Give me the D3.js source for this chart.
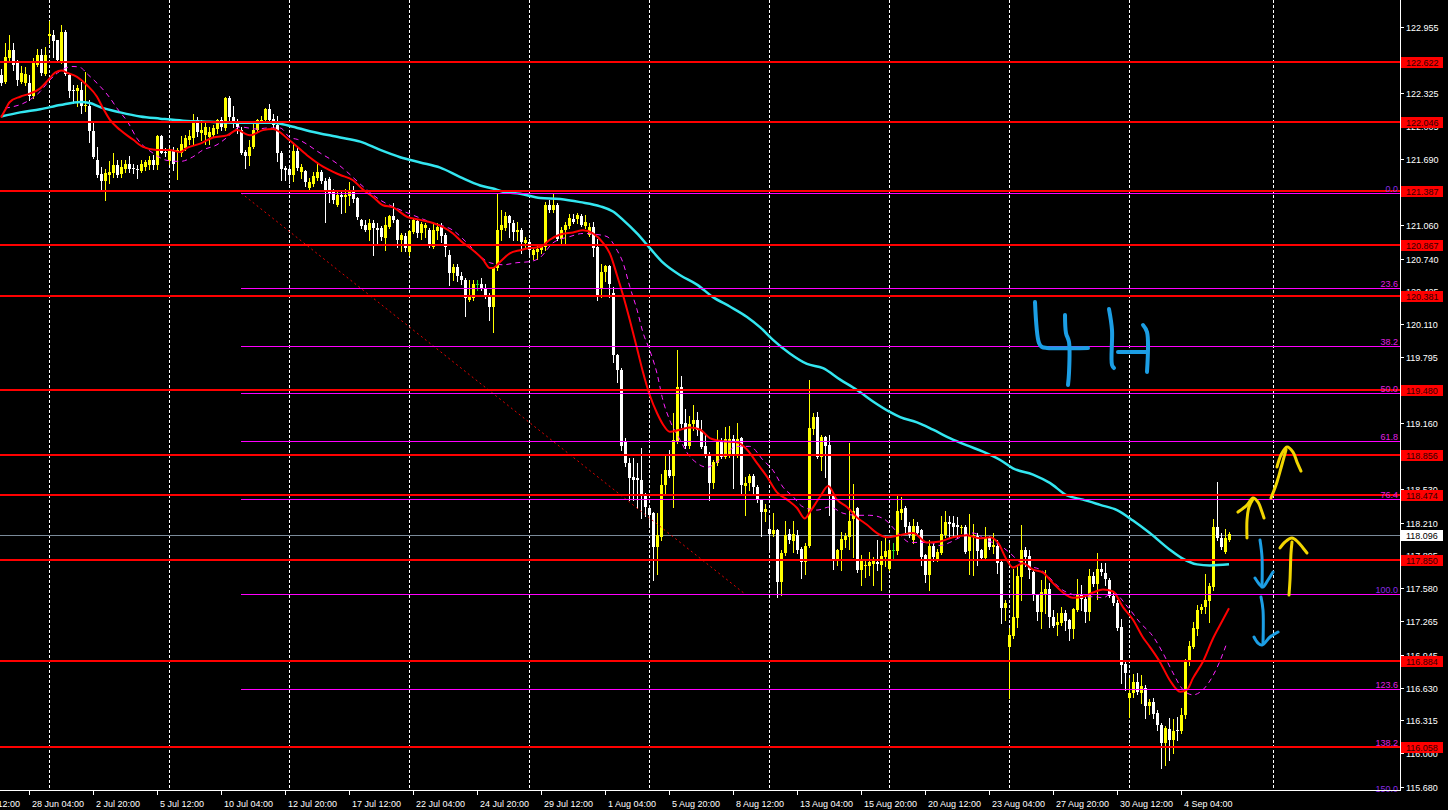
<!DOCTYPE html>
<html><head><meta charset="utf-8">
<script src="https://cdn.jsdelivr.net/npm/d3@7"></script>
<style>html,body{margin:0;padding:0;background:#000;overflow:hidden}</style>
</head><body>
<svg id="c" width="1448" height="810"></svg>
<script>
const opens = [122.50,122.43,122.66,122.74,122.61,122.43,122.42,122.42,122.30,122.59,122.69,122.51,122.87,122.88,122.83,122.63,122.91,122.50,122.35,122.34,122.35,122.20,122.20,121.96,121.68,121.55,121.48,121.54,121.56,121.64,121.55,121.60,121.65,121.61,121.60,121.58,121.62,121.64,121.68,121.64,121.91,121.76,121.67,121.78,121.76,121.75,121.80,121.88,121.89,122.07,121.94,121.92,121.90,121.92,121.98,122.07,121.99,122.28,122.10,122.05,
121.97,121.76,121.72,121.81,121.97,122.06,122.07,122.17,122.08,122.02,121.75,121.61,121.60,121.54,121.77,121.57,121.58,121.42,121.45,121.51,121.57,121.48,121.50,121.40,121.25,121.35,121.33,121.34,121.40,121.32,121.11,121.06,121.01,121.08,121.03,121.03,120.94,121.04,121.15,121.11,120.92,120.96,120.80,120.99,121.10,120.98,121.03,121.01,120.85,121.00,121.05,120.97,120.77,120.60,120.66,120.57,120.53,120.34,120.36,120.50,
120.50,120.46,120.39,120.28,120.65,121.01,121.03,121.15,121.08,120.99,121.01,120.89,120.90,120.77,120.80,120.82,120.85,121.25,121.20,121.25,120.93,121.01,121.05,121.12,121.12,121.15,121.05,120.97,121.04,120.85,120.45,120.61,120.67,120.41,119.82,119.67,118.98,118.78,118.65,118.64,118.62,118.48,118.35,118.30,117.98,118.07,118.57,118.71,118.66,118.99,
119.51,119.16,118.94,119.15,119.19,119.10,118.94,118.87,118.59,118.78,118.98,118.84,118.87,119.01,118.87,119.02,118.56,118.59,118.66,118.55,118.43,118.31,118.15,118.10,118.14,117.64,117.92,118.10,118.03,118.09,117.96,117.83,117.99,119.11,119.22,118.84,119.03,118.95,118.48,117.85,117.95,118.04,118.07,118.24,118.35,117.76,117.79,117.79,117.81,117.83,
117.80,117.88,117.77,117.95,117.94,118.30,118.35,118.18,118.04,118.18,118.14,117.90,117.71,117.99,117.85,117.92,118.09,118.22,118.21,118.19,118.16,118.17,117.94,118.07,118.08,117.95,117.87,118.07,117.98,117.99,117.83,117.39,117.02,117.12,117.30,117.69,117.95,117.89,117.74,117.52,117.35,117.53,117.57,117.31,117.23,117.25,117.34,117.28,117.19,117.37,
117.53,117.48,117.35,117.70,117.62,117.77,117.73,117.66,117.51,117.44,117.21,116.86,116.53,116.58,116.68,116.58,116.63,116.45,116.49,116.39,116.27,116.10,116.23,116.13,116.22,116.21,116.37,116.88,117.02,117.19,117.37,117.40,117.46,117.59,118.17,118.06,117.93,118.04];
const highs = [122.56,122.80,122.88,122.80,122.64,122.58,122.57,122.50,122.66,122.75,122.75,122.77,123.02,122.93,122.83,122.98,122.93,122.51,122.40,122.40,122.43,122.53,122.26,122.04,121.81,121.62,121.60,121.67,121.75,121.68,121.68,121.68,121.72,121.65,121.64,121.68,121.68,121.72,121.73,121.92,121.92,121.80,121.80,121.81,121.80,121.91,121.92,121.97,122.12,122.10,122.07,122.04,122.00,122.02,122.08,122.10,122.29,122.30,122.20,122.08,
122.00,121.78,121.88,122.04,122.08,122.11,122.18,122.22,122.12,122.11,121.77,121.63,121.64,121.84,121.81,121.65,121.59,121.51,121.57,121.66,121.59,121.51,121.52,121.41,121.40,121.40,121.41,121.47,121.43,121.33,121.12,121.11,121.12,121.11,121.08,121.05,121.14,121.16,121.27,121.12,120.98,120.98,121.01,121.12,121.12,121.09,121.08,121.03,121.08,121.08,121.08,120.98,120.82,120.69,120.69,120.61,120.55,120.53,120.53,120.53,
120.55,120.50,120.41,120.66,121.36,121.20,121.19,121.16,121.11,121.09,121.03,120.95,120.93,120.85,120.88,120.88,121.28,121.30,121.36,121.27,121.04,121.09,121.17,121.17,121.18,121.17,121.16,121.08,121.09,120.93,120.69,120.68,120.68,120.47,119.83,119.69,119.02,118.83,118.83,118.78,118.92,118.49,118.36,118.31,118.30,118.68,118.87,118.91,119.26,119.86,
119.61,119.30,119.23,119.34,119.27,119.19,119.06,118.89,118.81,119.10,119.02,119.13,119.14,119.05,119.16,119.03,118.65,118.68,118.68,118.57,118.44,118.39,118.28,118.30,118.15,117.95,118.23,118.15,118.23,118.14,117.98,118.01,119.58,119.26,119.27,119.05,119.04,119.05,118.50,117.96,118.12,118.11,118.97,118.58,118.36,117.90,117.85,117.93,117.88,118.04,
118.03,118.08,118.01,118.01,118.47,118.46,118.37,118.22,118.24,118.22,118.15,117.91,118.04,118.01,117.96,118.27,118.32,118.27,118.27,118.26,118.19,118.19,118.29,118.20,118.11,117.96,118.17,118.08,118.11,118.04,117.84,117.47,117.20,117.77,117.79,118.19,117.98,117.95,117.77,117.53,117.66,117.76,117.63,117.37,117.34,117.40,117.37,117.29,117.39,117.67,
117.61,117.50,117.77,117.74,117.92,117.82,117.82,117.68,117.55,117.47,117.29,116.88,116.72,116.76,116.77,116.75,116.65,116.52,116.53,116.41,116.29,116.26,116.34,116.33,116.35,116.43,116.90,117.08,117.26,117.42,117.43,117.72,117.63,118.24,118.60,118.11,118.15,118.12];
const lows = [122.40,122.42,122.64,122.55,122.40,122.42,122.40,122.26,122.28,122.58,122.50,122.50,122.80,122.67,122.63,122.61,122.50,122.29,122.23,122.20,122.13,122.15,121.86,121.70,121.52,121.40,121.30,121.46,121.52,121.52,121.52,121.57,121.57,121.56,121.51,121.57,121.59,121.60,121.60,121.60,121.75,121.72,121.65,121.59,121.50,121.72,121.78,121.84,121.84,121.91,121.88,121.84,121.84,121.91,121.94,121.97,121.97,122.05,122.00,121.94,
121.74,121.61,121.64,121.80,121.95,122.04,122.04,122.04,122.00,121.67,121.49,121.49,121.46,121.48,121.59,121.51,121.43,121.40,121.43,121.49,121.46,121.09,121.28,121.27,121.24,121.18,121.19,121.25,121.28,121.12,121.03,121.00,120.92,120.77,120.89,120.92,120.82,121.03,121.09,120.85,120.81,120.81,120.77,120.98,120.95,120.93,120.95,120.85,120.84,120.93,120.90,120.76,120.49,120.53,120.52,120.50,120.19,120.33,120.34,120.44,
120.44,120.36,120.15,120.04,120.63,120.92,121.01,120.95,120.92,120.92,120.79,120.85,120.77,120.74,120.74,120.79,120.82,121.19,121.19,120.92,120.89,120.87,121.03,121.08,121.08,121.05,121.03,120.96,120.76,120.34,120.37,120.52,120.37,119.75,119.56,118.91,118.75,118.43,118.43,118.35,118.25,118.27,118.17,117.66,117.72,118.04,118.47,118.65,118.36,118.97,
119.13,118.92,118.92,119.10,119.05,118.92,118.84,118.43,118.54,118.76,118.83,118.83,118.84,118.54,118.84,118.47,118.28,118.52,118.49,118.41,118.08,118.23,117.95,118.08,117.50,117.52,117.90,118.01,117.93,117.92,117.68,117.72,117.98,119.06,118.83,118.71,118.65,118.28,117.77,117.80,117.76,117.98,117.96,117.88,117.74,117.61,117.69,117.71,117.61,117.76,
117.56,117.79,117.76,117.85,117.91,118.24,118.11,118.07,118.01,118.09,117.80,117.64,117.56,117.84,117.84,117.91,118.07,118.06,118.08,118.06,118.11,117.92,117.72,117.71,117.80,117.85,117.85,117.96,117.92,117.73,117.25,117.28,116.53,117.10,117.21,117.47,117.79,117.68,117.47,117.28,117.20,117.34,117.21,117.21,117.13,117.23,117.18,117.09,117.10,117.36,
117.37,117.26,117.28,117.60,117.48,117.71,117.61,117.50,117.42,117.18,116.67,116.61,116.35,116.54,116.57,116.48,116.34,116.38,116.34,116.22,115.86,115.89,115.94,116.00,116.13,116.19,116.34,116.85,117.01,117.13,117.34,117.34,117.26,117.56,118.04,117.96,117.92,118.03];
const closes = [122.42,122.67,122.74,122.59,122.45,122.52,122.51,122.30,122.61,122.69,122.52,122.69,122.89,122.82,122.64,122.91,122.51,122.34,122.34,122.37,122.20,122.21,121.96,121.71,121.54,121.48,121.56,121.57,121.64,121.54,121.62,121.65,121.60,121.60,121.59,121.65,121.66,121.68,121.64,121.91,121.75,121.75,121.78,121.65,121.78,121.84,121.89,121.91,122.07,121.95,121.97,122.00,121.95,121.99,122.07,122.00,122.28,122.10,122.06,122.00,
121.75,121.72,121.81,121.97,122.07,122.07,122.17,122.07,122.02,121.75,121.60,121.59,121.54,121.77,121.61,121.62,121.47,121.47,121.53,121.57,121.48,121.38,121.37,121.30,121.35,121.33,121.35,121.40,121.31,121.14,121.05,121.01,121.08,121.03,121.01,120.95,121.06,121.15,121.11,120.92,120.97,120.84,121.00,121.11,120.98,121.07,121.06,120.87,121.01,121.04,120.96,120.85,120.60,120.66,120.57,120.53,120.36,120.37,120.50,120.50,
120.46,120.38,120.28,120.65,121.01,121.06,121.15,121.08,120.99,121.01,120.90,120.92,120.82,120.82,120.83,120.85,121.25,121.20,121.25,120.93,121.01,121.06,121.13,121.09,121.16,121.06,121.09,121.04,120.84,120.37,120.61,120.67,120.50,119.82,119.67,118.94,118.78,118.64,118.62,118.62,118.47,118.36,118.28,117.98,118.09,118.57,118.71,118.66,119.00,119.51,
119.15,118.94,119.15,119.19,119.10,118.93,118.87,118.59,118.79,119.00,118.84,119.01,119.01,118.87,119.01,118.57,118.59,118.66,118.55,118.43,118.31,118.34,118.10,118.14,117.64,117.92,118.09,118.04,118.10,117.95,117.83,117.99,119.12,119.22,118.84,119.03,118.94,118.47,117.85,117.95,118.05,118.08,118.23,118.32,117.76,117.85,117.80,117.83,117.84,117.81,
117.89,117.94,117.95,117.95,118.32,118.34,118.17,118.09,118.18,118.11,117.88,117.71,117.99,117.88,117.93,118.10,118.22,118.20,118.17,118.17,118.17,117.93,118.08,118.09,117.94,117.87,118.07,117.98,118.00,117.82,117.39,117.44,117.13,117.31,117.70,117.95,117.88,117.76,117.52,117.35,117.55,117.57,117.31,117.22,117.26,117.34,117.27,117.19,117.38,117.53,
117.48,117.35,117.70,117.62,117.77,117.74,117.67,117.51,117.44,117.20,116.85,116.77,116.58,116.68,116.59,116.64,116.45,116.49,116.38,116.27,116.10,116.24,116.13,116.21,116.21,116.37,116.88,117.03,117.20,117.37,117.40,117.47,117.60,118.17,118.06,117.98,118.06,118.10];

// moving averages: bar index and value
const maRedBars = [0,1,2.2,4.8,7.2,9.8,11.8,13.5,15.2,16.5,19,21.5,24,25.5,27.2,29.8,33,35.5,39,42.2,44.8,46.5,49.8,53,56.5,59,62.2,65.5,68,72.2,76.5,80.5,84.8,88,90.5,93,95.5,98,101.5,104.8,108,110.5,113,115.5,118,120.5,122.2,123,124.8,127.2,129.8,132.2,134.8,137.2,139.8,143,145.5,148,150.5,152.2,154,155.5,157.2,159,160.5,162.2,164,165.5,167.2,169.8,172.2,174.8,177.2,180.5,184,186.5,189,191.5,194,196.5,199,201,202.2,204.8,206.8,209,211.5,214,216.5,219,221.5,224.8,228,231.5,234.8,238,241.5,244.8,247.2,249.2,251.5,253,255.5,258,260.5,263,265.5,268,270.5,273,275.5,278,280.5,283,285.5,287.2,289.8,292.2,294.8,296.5,298,300.5,303,305.2,307];
const maRedVals = [122.09,122.16,122.24,122.29,122.32,122.37,122.45,122.52,122.54,122.52,122.48,122.40,122.29,122.18,122.07,121.97,121.88,121.81,121.78,121.78,121.76,121.80,121.84,121.90,121.92,121.97,121.92,121.97,121.98,121.87,121.73,121.62,121.54,121.49,121.40,121.33,121.25,121.23,121.14,121.11,121.08,121.04,120.98,120.89,120.82,120.73,120.65,120.65,120.71,120.79,120.82,120.84,120.85,120.92,120.97,120.99,121.01,120.98,120.89,120.79,120.58,120.39,120.15,119.88,119.65,119.43,119.26,119.15,119.08,119.10,119.12,119.10,119.02,118.99,118.98,118.91,118.78,118.65,118.50,118.43,118.35,118.25,118.31,118.46,118.56,118.43,118.36,118.26,118.19,118.11,118.07,118.09,118.11,118.02,118.03,118.07,118.09,118.06,118.07,118.02,117.85,117.78,117.82,117.76,117.73,117.63,117.54,117.49,117.50,117.54,117.57,117.55,117.40,117.28,117.11,117.02,116.87,116.70,116.59,116.61,116.72,116.88,117.10,117.26,117.39];
const maCyanBars = [0,4.8,9.8,14.8,19.8,22.2,24.8,29.8,34.8,39.8,45.5,52.2,59.8,68,72.2,77.2,84.8,89.8,94.8,99.8,104.8,109.8,114.8,119.8,123,125.5,129.8,134.8,139.8,144.8,149.8,153,155.5,159,162.2,165.5,169.8,174,178,182.2,186.5,189.8,193,197.2,201.5,205.5,209.8,214,218,222.2,224.8,229,233,237.2,241.5,245.5,249.8,253,258,262.2,266.5,270.5,274.8,279,283,287.2,292.2,295.2,299,302.2,307];
const maCyanVals = [122.10,122.14,122.17,122.21,122.24,122.23,122.19,122.14,122.10,122.08,122.06,122.05,122.04,122.04,122.01,121.96,121.90,121.86,121.78,121.71,121.66,121.61,121.52,121.44,121.41,121.38,121.36,121.32,121.31,121.28,121.24,121.19,121.11,120.98,120.84,120.70,120.58,120.49,120.37,120.28,120.18,120.08,119.96,119.83,119.73,119.69,119.58,119.48,119.37,119.27,119.22,119.17,119.10,119.02,118.95,118.89,118.81,118.73,118.67,118.59,118.47,118.43,118.38,118.33,118.23,118.11,117.95,117.87,117.81,117.80,117.81];
const maDashBars = [1,7.2,9.8,12.2,14.2,18,19.8,21.8,24,27.2,29,31.8,34,38,41.5,44.8,47.8,50.5,54,56.5,59.8,64,66.5,69.8,72.2,74.2,79.8,84,86.5,90.5,94.8,99,104,108,113,116.5,119.8,122.2,125.5,129,132.2,134.8,138,142.2,145.5,149,151.5,154,155.5,157.2,159,160.5,162.2,164,165.5,167.2,169.8,171.5,174,176.5,179,181.5,184,187.2,190.5,193,195.5,198,200.5,204,207.2,210.5,214,217.2,220.5,224.8,227.2,232.2,234.8,237.2,239.8,243,246.5,249.8,252.2,254.8,257.2,259.8,262.2,264.8,268,270.5,273,275.5,278,281.5,284.8,288,290.5,293,295.5,298,300.5,302.8,304.8,306.5];
const maDashVals = [122.18,122.26,122.34,122.45,122.52,122.58,122.57,122.50,122.42,122.28,122.18,122.04,121.89,121.75,121.68,121.67,121.71,121.78,121.83,121.90,122.00,121.98,121.99,121.99,121.90,121.88,121.75,121.65,121.57,121.43,121.30,121.22,121.14,121.08,121.01,120.89,120.76,120.70,120.68,120.70,120.71,120.75,120.89,120.95,120.98,120.97,120.95,120.82,120.70,120.47,120.25,120.03,119.86,119.64,119.38,119.19,119.00,118.88,118.78,118.74,118.79,118.88,118.94,118.94,118.81,118.71,118.55,118.46,118.36,118.33,118.36,118.30,118.28,118.28,118.25,118.09,118.02,118.02,117.99,118.02,118.07,118.11,118.04,117.99,117.92,117.83,117.79,117.76,117.68,117.58,117.52,117.50,117.50,117.49,117.54,117.41,117.25,117.12,116.96,116.77,116.61,116.56,116.61,116.73,116.89,117.06];

const levelPrices = [122.622,122.046,121.387,120.867,120.381,119.480,118.856,118.474,117.850,116.884,116.058];
const fibHigh = 121.368, fibLow = 117.526, fibStartBar = 60, fibEndBar = 186;
const fibLevels = [0,23.6,38.2,50,61.8,76.4,100,123.6,138.2,150];
const currentPrice = 118.096;
// price scale labels (those fully covered by the level boxes are not shown in the reference)
const priceTicks = ["122.955","122.325","122.005","121.690","121.060","120.740","120.425","120.110","119.795","119.160","118.530","118.210","117.895","117.580","117.265","116.945","116.630","116.315","116.000","115.680"];
const timeLabels = ["25 Jun 12:00","28 Jun 04:00","2 Jul 20:00","5 Jul 12:00","10 Jul 04:00","12 Jul 20:00","17 Jul 12:00","22 Jul 04:00","24 Jul 20:00","29 Jul 12:00","1 Aug 04:00","5 Aug 20:00","8 Aug 12:00","13 Aug 04:00","15 Aug 20:00","20 Aug 12:00","23 Aug 04:00","27 Aug 20:00","30 Aug 12:00","4 Sep 04:00"];
const timeLabelBars = [-9,7,23,39,55,71,87,103,119,135,151,167,183,199,215,231,247,263,279,295];
const gridBars = [12,42,72,102,132,162,192,222,252,282,318];

// hand-drawn annotations, in bar / price units
const note4H = [
  [[258.5,120.323],[259.5,119.931],[260.25,119.892],[261.5,119.883],[271.75,119.883]],
  [[266,120.199],[266.25,120.026],[267,119.940],[267,119.643],[266.75,119.528]],
  [[277,120.256],[277.75,120.055],[277.75,119.720],[278.25,119.691]],
  [[279.25,119.844],[286.5,119.844]],
  [[285.5,120.103],[286.5,120.036],[286.5,119.653]]
];
const yellowArrows = [
  [[311.5,118.062],[311.5,118.235],[312,118.359],[313,118.436]],
  [[309.25,118.311],[311.5,118.378],[313,118.446],[314.25,118.407],[315.25,118.311],[315.75,118.254]],
  [[317.5,118.446],[318.75,118.570],[320,118.733],[321.25,118.906]],
  [[319,118.743],[320,118.858],[321.5,118.934],[323,118.886],[324,118.790],[325,118.704]],
  [[322,117.516],[322.25,117.660],[322.5,117.919],[322.75,118.024]],
  [[319.75,117.967],[321,118.024],[322.75,118.062],[324.25,118.024],[325.5,117.967],[326.5,117.919]]
];
const blueArrows = [
  [[314.75,118.043],[315.25,117.880],[315.25,117.593]],
  [[313.5,117.679],[314.75,117.612],[315.5,117.593],[316.75,117.660],[318,117.737]],
  [[315,117.497],[315.5,117.372],[315.5,117.056]],
  [[313.25,117.114],[314.25,117.056],[315.25,117.037],[317.25,117.114],[319.25,117.162]]
];

const W = 1448, H = 810, PR = 1400, PB = 790;
const svg = d3.select("#c");
svg.append("rect").attr("width", W).attr("height", H).attr("fill", "#000");
const x = d3.scaleLinear().domain([0, 307]).range([1, 1229]);
const y = d3.scaleLinear().domain([115.680, 122.955]).range([786.7, 27.3]);
const font = "'Liberation Sans', Arial, sans-serif";

svg.append("defs").append("clipPath").attr("id", "plot")
  .append("rect").attr("x", 0).attr("y", 0).attr("width", PR).attr("height", PB);
const g = svg.append("g").attr("clip-path", "url(#plot)");

// weekly grid
g.selectAll("line.grid").data(gridBars).join("line")
  .attr("x1", d => Math.round(x(d)) + 0.5).attr("x2", d => Math.round(x(d)) + 0.5)
  .attr("y1", 0).attr("y2", PB)
  .attr("stroke", "#fff").attr("stroke-width", 1).attr("stroke-dasharray", "3,2");

// current price line
g.append("line").attr("x1", 0).attr("x2", PR)
  .attr("y1", Math.round(y(currentPrice)) + 0.5).attr("y2", Math.round(y(currentPrice)) + 0.5)
  .attr("stroke", "#7a8a99").attr("stroke-width", 1);

// candles
const bars = d3.range(opens.length).map(i => ({i, o: opens[i], h: highs[i], l: lows[i], c: closes[i]}));
const col = d => d.c > d.o ? "#ffff00" : (d.c < d.o ? "#ffffff" : "#22dd22");
const cg = g.append("g").attr("shape-rendering", "crispEdges");
cg.selectAll("line.w").data(bars).join("line")
  .attr("x1", d => Math.round(x(d.i)) + 0.5).attr("x2", d => Math.round(x(d.i)) + 0.5)
  .attr("y1", d => Math.round(y(d.h))).attr("y2", d => Math.round(y(d.l)) + 1)
  .attr("stroke", col).attr("stroke-width", 1);
cg.selectAll("rect.b").data(bars).join("rect")
  .attr("x", d => Math.round(x(d.i)) - 1).attr("width", 3)
  .attr("y", d => Math.round(y(Math.max(d.o, d.c))))
  .attr("height", d => Math.max(1, Math.round(y(Math.min(d.o, d.c))) - Math.round(y(Math.max(d.o, d.c)))))
  .attr("fill", col);

// moving averages
const ln = d3.line().x(d => x(d[0])).y(d => y(d[1])).curve(d3.curveMonotoneX);
g.append("path").attr("d", ln(d3.zip(maCyanBars, maCyanVals))).attr("fill", "none")
  .attr("stroke", "#33e6f0").attr("stroke-width", 2.5);
g.append("path").attr("d", ln(d3.zip(maDashBars, maDashVals))).attr("fill", "none")
  .attr("stroke", "#ff22ff").attr("stroke-width", 1).attr("stroke-dasharray", "5,4");
g.append("path").attr("d", ln(d3.zip(maRedBars, maRedVals))).attr("fill", "none")
  .attr("stroke", "#ff0000").attr("stroke-width", 2);

// fibonacci
const fibPrice = lv => fibHigh - (fibHigh - fibLow) * lv / 100;
g.append("line").attr("x1", x(fibStartBar)).attr("y1", y(fibHigh)).attr("x2", x(fibEndBar)).attr("y2", y(fibLow))
  .attr("stroke", "#e00000").attr("stroke-width", 1).attr("stroke-dasharray", "2,3");
g.selectAll("line.fib").data(fibLevels).join("line")
  .attr("x1", Math.round(x(fibStartBar))).attr("x2", PR)
  .attr("y1", d => Math.round(y(fibPrice(d))) + 0.5).attr("y2", d => Math.round(y(fibPrice(d))) + 0.5)
  .attr("stroke", "#ff00ff").attr("stroke-width", 1).attr("shape-rendering", "crispEdges");

// horizontal levels
g.selectAll("line.lvl").data(levelPrices).join("line")
  .attr("x1", 0).attr("x2", PR)
  .attr("y1", d => Math.round(y(d))).attr("y2", d => Math.round(y(d)))
  .attr("stroke", "#ff0000").attr("stroke-width", 2).attr("shape-rendering", "crispEdges");

// fib labels
svg.selectAll("text.fib").data(fibLevels).join("text")
  .attr("x", 1398).attr("y", d => Math.min(Math.round(y(fibPrice(d))) - 1, 792))
  .attr("text-anchor", "end").attr("font-family", font).attr("font-size", 9)
  .attr("fill", d => (d === 0 || d === 100 || d === 150) ? "#8a2be2" : "#e020e0")
  .text(d => d.toFixed(1));

// annotations
const aln = d3.line().x(d => x(d[0])).y(d => y(d[1])).curve(d3.curveCatmullRom);
const ag = svg.append("g").attr("fill", "none").attr("stroke-linecap", "round").attr("stroke-linejoin", "round");
ag.selectAll("path.h4").data(note4H).join("path").attr("d", aln).attr("stroke", "#1c9ee4").attr("stroke-width", 4);
ag.selectAll("path.ya").data(yellowArrows).join("path").attr("d", aln).attr("stroke", "#f2d600").attr("stroke-width", 3);
ag.selectAll("path.ba").data(blueArrows).join("path").attr("d", aln).attr("stroke", "#1c9ee4").attr("stroke-width", 3);

// axes
svg.append("line").attr("x1", PR + 0.5).attr("x2", PR + 0.5).attr("y1", 0).attr("y2", PB + 1).attr("stroke", "#fff");
svg.append("line").attr("x1", 0).attr("x2", PR + 1).attr("y1", PB + 0.5).attr("y2", PB + 0.5).attr("stroke", "#fff");

const tv = priceTicks.map(s => +s);
svg.selectAll("line.pt").data(tv).join("line")
  .attr("x1", PR).attr("x2", PR + 4).attr("y1", d => Math.round(y(d)) + 0.5).attr("y2", d => Math.round(y(d)) + 0.5)
  .attr("stroke", "#fff");
svg.selectAll("text.pt").data(priceTicks).join("text")
  .attr("x", 1406).attr("y", d => Math.round(y(+d)) + 3.5)
  .attr("font-family", font).attr("font-size", 9).attr("fill", "#fff").text(d => d);

// level label boxes
const lb = svg.selectAll("g.lb").data(levelPrices).join("g")
  .attr("transform", d => `translate(1401,${Math.round(y(d)) - 5})`);
lb.append("rect").attr("width", 42).attr("height", 11).attr("fill", "#ff0000");
lb.append("text").attr("x", 5).attr("y", 8.5).attr("font-family", font).attr("font-size", 9)
  .attr("fill", "#300000").text(d => d.toFixed(3));

// current price box
const cp = svg.append("g").attr("transform", `translate(1401,${Math.round(y(currentPrice)) - 5})`);
cp.append("rect").attr("width", 42).attr("height", 11).attr("fill", "#fff");
cp.append("text").attr("x", 5).attr("y", 8.5).attr("font-family", font).attr("font-size", 9)
  .attr("fill", "#000").text(currentPrice.toFixed(3));

// time axis
svg.selectAll("line.tt").data(timeLabelBars).join("line")
  .attr("x1", d => Math.round(x(d)) + 0.5).attr("x2", d => Math.round(x(d)) + 0.5)
  .attr("y1", PB + 1).attr("y2", PB + 5).attr("stroke", "#fff");
svg.selectAll("text.tl").data(timeLabels).join("text")
  .attr("x", (d, i) => Math.round(x(timeLabelBars[i])) + 3).attr("y", 807)
  .attr("font-family", font).attr("font-size", 9).attr("fill", "#fff").text(d => d);
</script>
</body></html>
